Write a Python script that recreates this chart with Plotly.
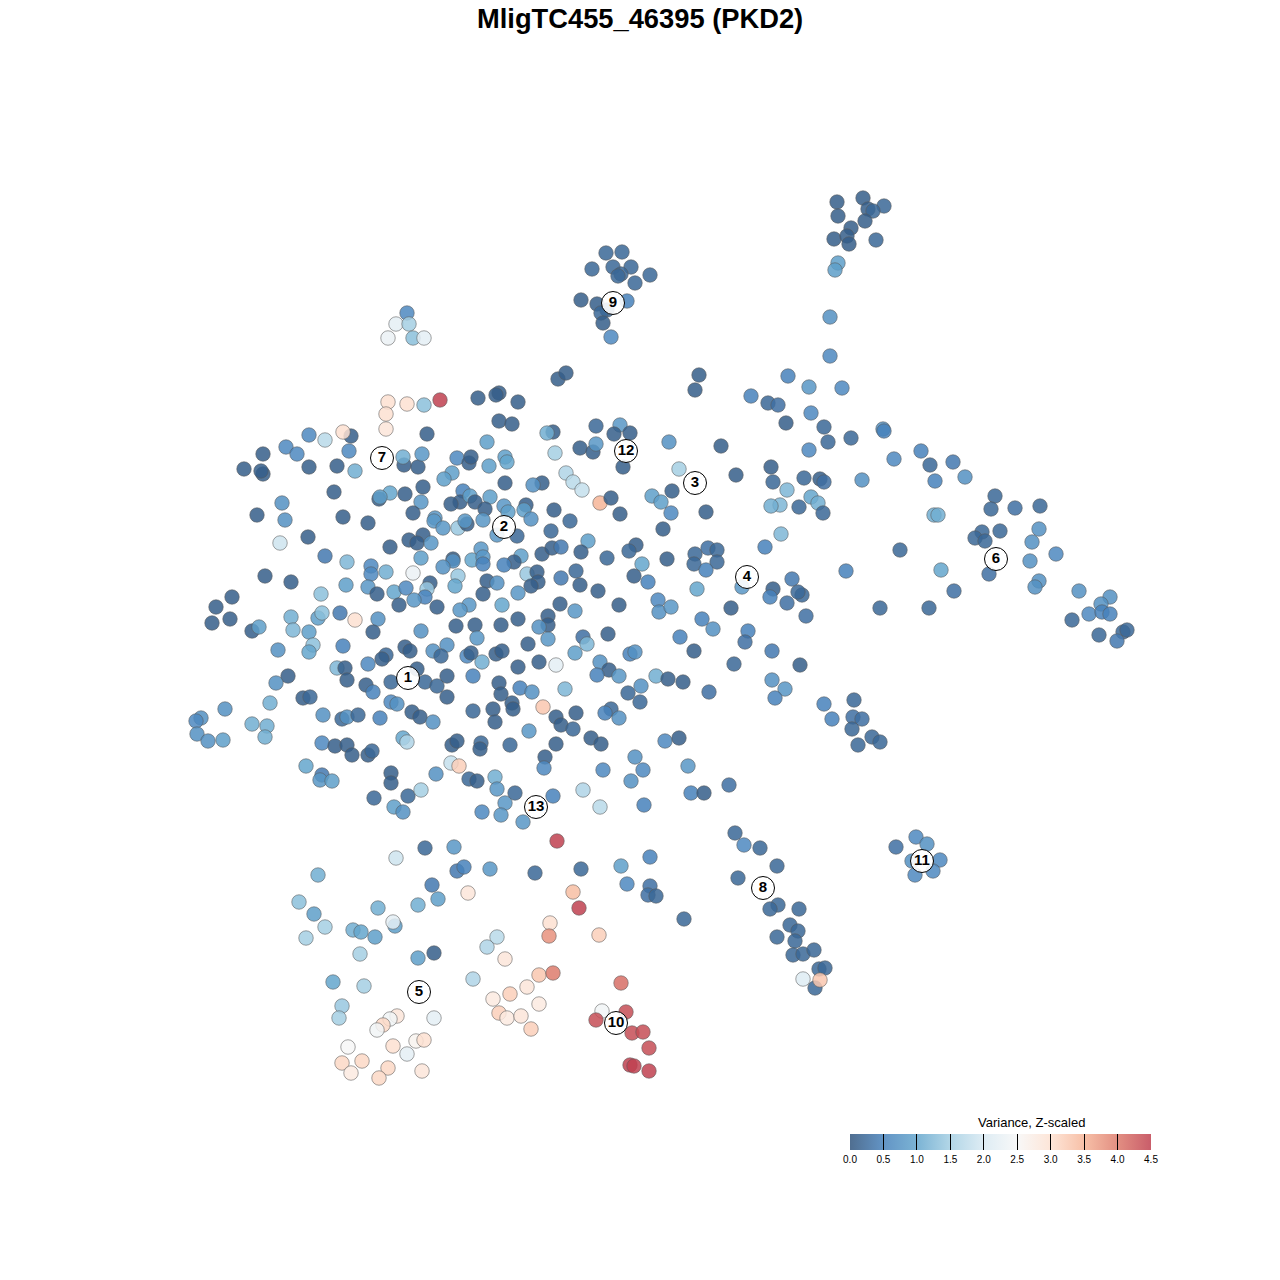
import plotly.graph_objects as go

TITLE = "MligTC455_46395 (PKD2)"
CB_TITLE = "Variance, Z-scaled"
tick_vals = [0, 0.5, 1, 1.5, 2, 2.5, 3, 3.5, 4, 4.5]
# colours as they look on white (RdBu at 70% over white), re-expressed at 85% alpha
palette = ["49,85,125", "71,129,187", "100,166,205", "165,207,227", "216,233,242",
           "247,247,247", "253,225,209", "246,181,152", "221,123,108", "192,65,80"]

# upper-left block
a_x = [388,407,424,440,478,386,386,427,309,325,351,343,286,297,349,263,244,263,261,309,337,355,404,403,418,422,457,469,471,487,489,452,444,
       334,390,379,380,405,423,421,463,460,470,451,475,490,485,413,282,285,257,343,368,435,434,443,458,467,465,483,308,280,390,409,423,417,431,421,325,347,371,371,386,413,
       453,453,443,472,481,483,483,458,455,487,483,265,291,346,368,377,321,394,406,430,427,425,414,399,437,469,460,232,216,212,230,252,259,291,293,309,318,322,340,355,378,373,421,456,475,477]
a_y = [402,404,405,400,398,414,429,434,435,440,436,432,447,454,451,454,469,474,471,467,466,471,465,457,467,454,458,463,457,442,466,473,479,
       492,493,499,497,494,487,502,491,502,496,504,502,497,509,513,503,520,515,517,523,518,521,528,528,524,521,520,537,543,547,540,535,543,543,558,556,562,566,574,572,573,
       559,561,567,560,549,557,564,576,586,581,594,576,582,585,587,594,594,592,588,583,589,597,600,605,607,605,610,597,607,623,619,631,627,617,630,632,618,613,613,620,619,632,631,626,625,638]
a_v = [3.0,3.0,1.3,4.5,0.1,3.0,2.9,0.1,0.6,1.7,0.1,3.0,0.6,0.6,0.6,0.1,0.1,0.1,0.1,0.1,0.1,1.1,0.1,1.1,0.1,0.8,0.6,0.1,0.1,0.9,0.9,0.9,0.9,
       0.1,1.0,0.1,0.9,0.1,0.1,0.8,0.5,0.1,0.9,0.1,0.1,0.9,0.1,0.1,0.7,0.7,0.1,0.1,0.1,0.8,0.8,0.8,1.4,0.1,0.8,0.8,0.1,1.9,0.1,0.1,0.1,0.1,0.8,0.9,0.4,1.2,0.6,0.6,1.1,2.3,
       0.1,0.7,0.7,1.0,0.8,0.8,0.5,1.4,1.0,0.1,0.1,0.1,0.1,0.9,0.8,0.1,1.3,1.0,0.6,0.1,1.4,0.5,0.8,0.1,0.1,0.8,0.8,0.1,0.1,0.1,0.1,0.1,0.9,1.1,1.2,0.9,0.9,1.3,0.4,3.0,0.7,0.1,0.7,0.1,0.1,0.8]

# upper-middle block
b_x = [558,566,499,496,518,499,512,695,699,751,768,778,786,553,547,596,620,614,630,669,721,580,593,596,555,505,507,623,679,771,773,787,736,566,573,582,505,542,533,672,652,661,671,600,611,620,706,780,771,
       504,508,526,524,531,554,570,497,517,551,663,781,765,588,542,552,561,581,607,636,629,667,695,694,708,717,717,706,642,634,648,697,521,514,504,527,537,538,531,497,518,502,561,576,580,598,619,560,575,658,659,671,742,773,770,792,787,731,702,713,748,745,518,501,548,548,539,548,528,583,587,608,680]
b_y = [379,373,393,395,402,421,424,390,375,396,403,405,423,432,433,426,425,434,433,442,446,448,452,444,453,457,462,467,469,467,482,490,475,473,482,490,483,483,485,491,496,502,513,503,498,514,512,505,506,
       506,512,505,510,519,510,521,535,536,531,529,534,547,541,554,548,547,552,558,545,551,559,554,564,548,550,562,570,564,576,582,589,556,562,565,574,572,582,586,583,593,605,578,571,585,591,605,604,611,600,612,607,587,589,597,579,603,608,619,629,631,642,619,625,616,625,627,639,644,637,644,634,637]
b_v = [0.1,0.1,0.1,0.1,0.1,0.1,0.1,0.1,0.1,0.5,0.2,0.3,0.1,0.1,1.1,0.2,0.8,0.1,0.1,0.7,0.1,0.1,0.1,0.8,1.5,0.9,1.0,0.1,1.5,0.1,0.2,1.2,0.1,1.6,1.7,1.8,0.1,0.1,0.7,0.1,0.9,0.9,0.6,3.5,0.1,0.1,0.1,1.2,1.1,
       0.8,0.9,0.1,0.9,0.7,0.1,0.2,0.8,0.2,0.2,0.1,1.2,0.5,0.9,0.1,0.1,0.4,0.1,0.2,0.1,0.2,0.1,0.2,0.2,0.3,0.2,0.2,0.5,1.0,0.1,0.5,1.0,0.9,0.1,0.5,1.4,0.1,0.1,0.1,0.7,0.8,1.0,0.4,0.2,0.1,0.1,0.1,0.1,0.8,0.6,0.7,0.8,0.8,0.1,0.5,0.4,0.3,0.1,0.5,0.7,0.5,0.3,0.1,0.1,0.1,0.1,0.7,0.8,0.1,0.3,1.2,0.1,0.5]

# lower-left block
c_x = [278,313,309,343,337,345,347,288,276,368,386,382,405,410,433,447,441,467,471,482,473,417,447,391,425,437,366,373,447,270,303,310,391,397,473,412,420,433,225,201,196,197,208,223,252,267,265,323,342,347,358,380,
       322,335,347,352,368,372,403,407,452,457,481,480,306,322,320,332,391,391,436,451,459,469,477,495,374,408,421,394,403,482]
c_y = [650,645,652,646,668,668,680,676,683,664,655,659,647,651,651,645,656,656,653,662,676,669,676,682,682,686,685,692,697,703,698,697,702,704,711,712,717,722,709,718,721,734,741,740,724,726,737,715,719,717,715,718,
       743,746,745,755,755,751,738,742,745,741,743,749,766,775,780,781,773,783,774,763,766,779,781,777,798,796,790,807,812,812]
c_v = [0.7,1.3,1.0,0.5,1.2,0.1,0.1,0.1,0.7,0.6,0.2,0.1,0.1,0.1,0.7,0.7,0.2,0.6,0.1,1.1,0.5,0.1,0.1,0.2,0.2,0.2,0.1,0.5,0.1,1.1,0.1,0.2,0.6,0.7,0.2,0.1,0.1,0.7,0.7,0.7,0.6,0.7,0.7,0.9,1.1,1.1,1.1,0.7,0.2,0.7,0.2,0.5,
       0.6,0.1,0.1,0.1,0.1,0.2,1.0,1.6,0.1,0.1,0.2,0.1,1.0,0.4,0.8,0.9,0.1,0.1,0.7,1.8,3.2,0.2,0.1,1.1,0.2,0.2,1.5,0.9,0.7,0.6]

# lower-middle block
d_x = [575,772,694,734,630,635,496,502,518,539,556,600,609,597,619,656,668,683,772,785,775,709,628,641,640,499,501,520,532,565,512,513,543,556,561,576,573,493,495,529,510,556,545,544,591,601,611,605,619,665,679,635,643,631,603,688,497,515,505,501,523,553,583,600,644,691,704,729]
d_y = [653,651,651,664,654,652,654,651,667,662,665,662,670,675,676,676,679,682,680,689,698,692,693,686,702,683,694,688,692,689,703,709,707,717,725,713,729,709,722,731,745,744,757,768,738,744,709,713,718,741,738,757,770,781,770,766,789,793,803,815,822,796,790,807,805,793,793,785]
d_v = [0.9,0.4,0.1,0.2,0.5,0.7,0.1,0.1,0.1,0.1,2.2,0.7,0.1,0.5,0.8,1.1,0.1,0.1,0.7,0.8,0.5,0.3,0.2,0.7,0.2,0.1,0.1,0.5,0.7,1.2,0.1,0.1,3.3,0.1,0.1,0.1,0.2,0.1,0.1,0.8,0.2,0.1,0.1,0.6,0.1,0.1,0.2,0.5,0.7,0.6,0.1,0.7,0.6,0.7,0.6,0.8,0.8,0.2,0.8,0.8,0.8,0.5,1.6,1.7,0.5,0.5,0.1,0.3]

# bottom block
e_x = [425,454,396,557,318,457,464,490,535,581,432,468,573,579,299,314,325,306,378,418,438,353,361,375,395,393,360,418,434,497,487,505,550,549,539,553,333,364,473,510,527,493,539,342,339,397,390,383,377,434,499,507,521,531,348,393,416,424,407,342,362,351,388,379,422,
       650,621,627,650,648,656,684,599,621,602,626,596,632,643,649,630,634,649]
e_y = [848,847,858,841,875,871,867,869,873,869,885,893,892,908,902,914,927,938,908,905,899,930,932,937,926,922,954,958,953,937,947,959,923,936,975,973,982,986,979,994,987,999,1004,1006,1018,1016,1019,1025,1030,1018,1013,1018,1016,1029,1047,1046,1041,1040,1054,1063,1061,1073,1068,1078,1071,
       857,866,884,886,895,896,919,935,983,1011,1012,1020,1033,1032,1048,1065,1066,1071]
e_v = [0.2,0.8,1.9,4.5,1.1,0.4,0.5,0.8,0.2,0.2,0.4,2.9,3.4,4.5,1.3,0.9,1.5,1.5,1.1,1.1,0.9,1.1,1.0,0.9,0.9,2.2,1.5,0.9,0.1,1.7,1.6,2.9,3.0,3.8,3.3,4.0,1.0,1.5,1.6,3.2,2.9,2.8,2.8,1.4,1.5,2.9,2.4,3.1,2.4,2.2,3.2,2.8,2.9,3.2,2.5,3.0,2.6,3.0,2.2,3.1,3.1,2.8,3.1,3.1,2.9,
       0.5,0.9,0.6,0.3,0.3,0.2,0.2,3.2,4.1,2.4,4.4,4.4,4.4,4.4,4.4,4.5,4.5,4.5]

# top clusters
f_x = [837,863,884,868,873,838,865,851,834,847,849,876,838,835,830,830,606,622,613,631,621,618,650,592,635,581,597,627,607,601,603,611,407,396,409,388,413,424]
f_y = [202,198,206,209,211,216,221,228,239,236,244,240,263,270,317,356,253,252,267,267,274,276,275,269,283,300,304,301,310,313,323,337,313,324,324,338,338,338]
f_v = [0.1,0.1,0.2,0.1,0.2,0.1,0.1,0.1,0.1,0.1,0.1,0.2,0.9,0.9,0.7,0.6,0.2,0.2,0.2,0.2,0.2,0.2,0.2,0.2,0.2,0.1,0.1,0.5,0.2,0.2,0.1,0.6,0.6,2.2,1.5,2.3,1.3,2.2]

# right side
g_x = [788,809,842,811,824,828,851,809,883,884,894,921,930,953,935,965,862,804,820,824,811,818,799,823,995,1015,1040,991,1000,982,975,985,934,938,1039,1032,1056,1030,900,846,941,989,1039,1035,954,929,880,802,806,798,1079,1110,1101,1089,1102,1110,1072,1099,1123,1127,1117,800,824,854,853,862,832,852,872,880,858]
g_y = [376,387,388,413,427,442,438,450,429,431,459,451,465,462,481,477,480,478,479,482,497,503,507,513,496,508,506,509,531,532,538,541,515,515,529,542,554,561,550,571,570,574,581,587,591,608,608,595,616,592,591,597,604,614,612,614,620,635,632,630,641,665,704,700,717,719,719,729,737,742,745]
g_v = [0.5,0.8,0.6,0.6,0.2,0.2,0.2,0.6,0.7,0.5,0.6,0.5,0.2,0.4,0.5,0.7,0.7,0.2,0.1,0.3,1.0,1.1,0.2,0.2,0.2,0.3,0.2,0.2,0.2,0.2,0.2,0.2,1.1,1.1,0.7,0.7,0.6,0.7,0.2,0.5,1.0,0.3,0.7,0.7,0.3,0.2,0.2,0.2,0.3,0.2,0.7,0.7,0.7,0.6,0.5,0.5,0.2,0.2,0.2,0.2,0.4,0.1,0.5,0.2,0.3,0.3,0.5,0.2,0.2,0.2,0.2]

# clusters 8 and 11
h_x = [735,744,760,777,738,778,770,799,790,798,777,795,793,803,814,819,825,815,803,820,896,916,927,912,940,933,915]
h_y = [833,845,848,866,878,905,909,909,925,931,937,941,955,954,950,969,968,988,979,980,847,837,844,861,860,871,875]
h_v = [0.2,0.6,0.2,0.2,0.2,0.2,0.2,0.2,0.2,0.2,0.2,0.2,0.2,0.2,0.2,0.2,0.2,0.2,2.1,3.3,0.3,0.6,0.7,0.7,0.6,0.6,0.6]

cluster_names = ["1","2","3","4","5","6","7","8","9","10","11","12","13"]
cluster_x = [408,504,695,747,419,996,382,763,613,616,922,626,536]
cluster_y = [678,527,483,577,992,559,458,888,303,1023,861,451,807]

cell_x = a_x + b_x + c_x + d_x + e_x + f_x + g_x + h_x
cell_y = a_y + b_y + c_y + d_y + e_y + f_y + g_y + h_y
cell_v = a_v + b_v + c_v + d_v + e_v + f_v + g_v + h_v
for n, xs, ys, vs in [("a",a_x,a_y,a_v),("b",b_x,b_y,b_v),("c",c_x,c_y,c_v),("d",d_x,d_y,d_v),
                      ("e",e_x,e_y,e_v),("f",f_x,f_y,f_v),("g",g_x,g_y,g_v),("h",h_x,h_y,h_v)]:
    if not (len(xs) == len(ys) == len(vs)):
        raise SystemExit(f"{n} {len(xs)} {len(ys)} {len(vs)}")

scale = [[i / (len(palette) - 1), f"rgba({c},0.85)"] for i, c in enumerate(palette)]

W = 1280

fig = go.Figure()
fig.add_trace(go.Scatter(
    x=cell_x, y=cell_y, mode="markers", hoverinfo="skip", showlegend=False,
    marker=dict(
        size=14.5, color=cell_v, cmin=0, cmax=4.5, colorscale=scale,
        line=dict(color="rgba(90,90,90,0.55)", width=1),
        colorbar=dict(
            orientation="h", thickness=16, thicknessmode="pixels",
            len=301, lenmode="pixels", x=850 / W, xanchor="left",
            y=1 - 1134 / W, yanchor="top", xpad=0, ypad=0,
            outlinewidth=0, tickmode="array", tickvals=tick_vals,
            ticktext=[f"{t:.1f}" for t in tick_vals],
            ticks="inside", ticklen=16, tickcolor="black", tickwidth=1,
            tickfont=dict(family="Liberation Sans", size=10, color="black"),
        ),
    ),
))
fig.add_trace(go.Scatter(
    x=cluster_x, y=cluster_y, mode="markers+text",
    text=[f"<b>{n}</b>" for n in cluster_names],
    textposition="middle center", hoverinfo="skip", showlegend=False,
    marker=dict(size=23, color="rgba(255,255,255,0.9)", line=dict(color="black", width=1)),
    textfont=dict(family="Liberation Sans", size=15, color="black"),
))
fig.update_layout(
    width=W, height=W, margin=dict(l=0, r=0, t=0, b=0),
    paper_bgcolor="white", plot_bgcolor="white",
    xaxis=dict(range=[0, W], visible=False),
    yaxis=dict(range=[W, 0], visible=False),
    annotations=[
        dict(x=640, y=18, xref="x", yref="y", text=f"<b>{TITLE}</b>", showarrow=False,
             font=dict(family="Liberation Sans", size=27.3, color="black")),
        dict(x=1031, y=1122, xref="x", yref="y", text=CB_TITLE, showarrow=False,
             font=dict(family="Liberation Sans", size=13, color="black")),
    ],
)
fig.write_html("out.html", config={"displayModeBar": False},
               post_script="document.body.style.margin='0';")
